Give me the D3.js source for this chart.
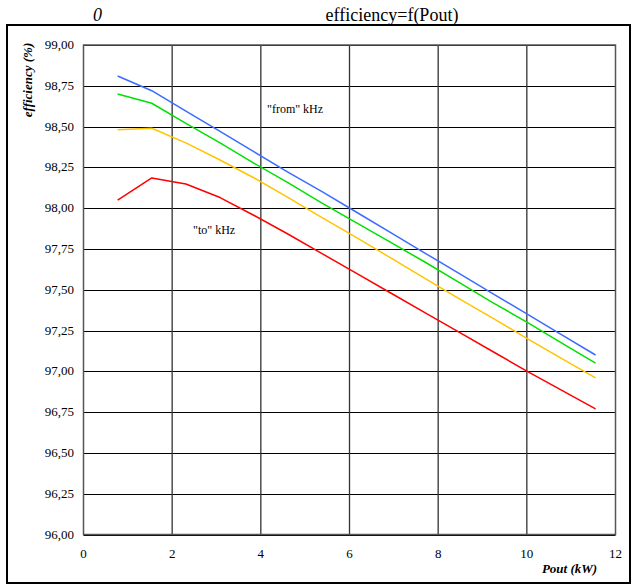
<!DOCTYPE html>
<html><head><meta charset="utf-8">
<script src="https://cdn.jsdelivr.net/npm/d3@7"></script>
<style>
html,body{margin:0;padding:0;background:#fff;}
svg{display:block;}
svg text{font-family:"Liberation Serif","Tinos","Noto Serif","DejaVu Serif",serif;}
</style>
</head><body>
<svg id="chart" width="633" height="587"></svg>
<script>
// ---- data ----
const pout = [0.77, 1.54, 2.31, 3.08, 3.85, 4.62, 5.39, 6.16, 6.93, 7.70, 8.47, 9.24, 10.01, 10.78, 11.55];
const effBlue   = [98.81, 98.72, 98.595, 98.47, 98.345, 98.22, 98.10, 97.975, 97.85, 97.725, 97.60, 97.475, 97.35, 97.225, 97.10];
const effGreen  = [98.70, 98.643, 98.52, 98.40, 98.275, 98.155, 98.03, 97.91, 97.79, 97.67, 97.545, 97.42, 97.30, 97.175, 97.05];
const effYellow = [98.48, 98.49, 98.40, 98.295, 98.185, 98.065, 97.94, 97.82, 97.695, 97.57, 97.445, 97.325, 97.20, 97.08, 96.96];
const effRed    = [98.05, 98.185, 98.148, 98.065, 97.955, 97.84, 97.72, 97.60, 97.48, 97.36, 97.24, 97.12, 97.00, 96.885, 96.77];
const seriesNames = ["blue", "green", "yellow", "red"];
const seriesColors = ["#3a6cff", "#00e000", "#ffc400", "#ff0000"];
const xTicks = [0, 2, 4, 6, 8, 10, 12];
const yTicks = [96.00, 96.25, 96.50, 96.75, 97.00, 97.25, 97.50, 97.75, 98.00, 98.25, 98.50, 98.75, 99.00];
const titleText = "efficiency=f(Pout)";
const cornerText = "0";
const xLabel = "Pout (kW)";
const yLabel = "efficiency (%)";
const annotFrom = "\"from\" kHz";
const annotTo = "\"to\" kHz";

// ---- layout ----
const svg = d3.select("#chart");
const x = d3.scaleLinear().domain([0, 12]).range([83.5, 615.5]);
const y = d3.scaleLinear().domain([96, 99]).range([534.5, 45]);

// outer border
svg.append("rect").attr("x", 7).attr("y", 25).attr("width", 623).attr("height", 558)
  .attr("fill", "none").attr("stroke", "#000").attr("stroke-width", 2);

// title texts
svg.append("text").attr("x", 392).attr("y", 21).attr("text-anchor", "middle")
  .attr("font-size", 18).text(titleText);
svg.append("text").attr("x", 97.5).attr("y", 21).attr("text-anchor", "middle")
  .attr("font-size", 18).attr("font-style", "italic").text(cornerText);

// grid
const g = svg.append("g");
g.selectAll("line.h").data(yTicks).join("line").attr("class", "h")
  .attr("x1", x(0)).attr("x2", x(12))
  .attr("y1", d => Math.round(y(d)) + 0.5).attr("y2", d => Math.round(y(d)) + 0.5)
  .attr("stroke", "#000").attr("stroke-width", 1);
g.selectAll("line.v").data(xTicks.slice(1, -1)).join("line").attr("class", "v")
  .attr("y1", y(99)).attr("y2", y(96))
  .attr("x1", d => x(d)).attr("x2", d => x(d))
  .attr("stroke", "#333").attr("stroke-width", 1.3);
g.append("rect").attr("x", x(0)).attr("y", y(99)).attr("width", x(12) - x(0)).attr("height", y(96) - y(99))
  .attr("fill", "none").attr("stroke", "#555").attr("stroke-width", 1.5);

// axes labels
const fmt = d3.format(".2f");
svg.append("g").selectAll("text").data(yTicks).join("text")
  .attr("x", 74).attr("y", d => y(d) + 4).attr("text-anchor", "end")
  .attr("font-size", 13)
  .text(d => fmt(d).replace(".", ","));
svg.append("g").selectAll("text").data(xTicks).join("text")
  .attr("x", d => x(d)).attr("y", 558).attr("text-anchor", "middle")
  .attr("font-size", 13).text(d => d);

svg.append("text").attr("x", 569.5).attr("y", 573).attr("text-anchor", "middle")
  .attr("font-size", 13).attr("font-weight", "bold").attr("font-style", "italic")
  .text(xLabel);
svg.append("text").attr("transform", "translate(32,80) rotate(-90)").attr("text-anchor", "middle")
  .attr("font-size", 13).attr("font-weight", "bold").attr("font-style", "italic")
  .text(yLabel);

// lines
const series = [effBlue, effGreen, effYellow, effRed];
const line = d3.line().x((d, i) => x(pout[i])).y(d => y(d));
svg.append("g").selectAll("path").data(series).join("path")
  .attr("d", d => line(d)).attr("fill", "none")
  .attr("stroke", (d, i) => seriesColors[i]).attr("stroke-width", 1.5)
  .attr("stroke-linejoin", "round");

// annotations
svg.append("text").attr("x", 267).attr("y", 113).attr("font-size", 12).text(annotFrom);
svg.append("text").attr("x", 193).attr("y", 234).attr("font-size", 12).text(annotTo);
</script>
</body></html>
